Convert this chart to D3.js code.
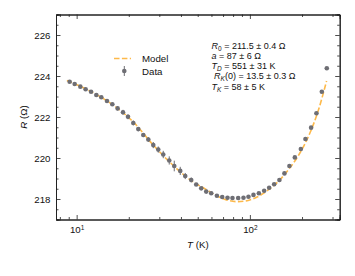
<!DOCTYPE html>
<html>
<head>
<meta charset="utf-8">
<script src="https://cdn.jsdelivr.net/npm/d3@7"></script>
<style>
  body { margin: 0; background: #fff; }
  text { font-family: "Liberation Sans", Arial, Helvetica, sans-serif; fill: #111; }
</style>
</head>
<body>
<div id="chart"></div>
<script>
// data
var tempK = [9.11, 9.74, 10.5, 11.27, 12.11, 12.99, 13.88, 14.97, 16.07, 17.24,
  18.52, 19.79, 21.23, 22.69, 24.25, 25.92, 27.69, 29.59, 31.62, 34.24,
  36.6, 39.63, 42.35, 45.86, 49.01, 52.38, 55.97, 59.82, 64.51, 69.23,
  74.27, 79.37, 85.61, 91.86, 98.16, 104.9, 112.7, 120.9, 129.2, 138.1,
  148.1, 158.3, 169.1, 181.8, 196.9, 209.3, 225.7, 242.2, 260.2, 278.0];
var resist = [223.72, 223.61, 223.48, 223.35, 223.23, 223.07, 222.96, 222.78, 222.62, 222.42,
  222.23, 222.01, 221.71, 221.41, 221.12, 220.90, 220.63, 220.41, 220.17, 219.88,
  219.61, 219.37, 219.12, 218.93, 218.71, 218.52, 218.36, 218.28, 218.16, 218.10,
  218.06, 218.05, 218.05, 218.06, 218.11, 218.20, 218.28, 218.40, 218.55, 218.72,
  218.93, 219.25, 219.61, 220.03, 220.44, 220.93, 221.48, 222.18, 223.23, 224.38];
var resistErr = [0.05, 0.05, 0.05, 0.05, 0.05, 0.05, 0.05, 0.05, 0.08, 0.1,
  0.12, 0.12, 0.12, 0.1, 0.1, 0.12, 0.15, 0.15, 0.18, 0.2,
  0.26, 0.2, 0.15, 0.12, 0.05, 0.05, 0.05, 0.05, 0.05, 0.05,
  0.05, 0.05, 0.05, 0.05, 0.05, 0.05, 0.05, 0.05, 0.05, 0.05,
  0.05, 0.05, 0.05, 0.05, 0.05, 0.05, 0.05, 0.05, 0.05, 0.05];

var modelT = [8.78, 12.0, 16.07, 21.23, 27.69, 36.6, 45.86, 55.23, 63.08, 72.04,
  84.48, 97.77, 111.6, 127.6, 145.6, 166.3, 190.0, 216.9, 247.7, 277.3];
var modelR = [223.78, 223.26, 222.61, 221.76, 220.63, 219.59, 218.90, 218.49, 218.20, 217.98,
  217.87, 217.93, 218.12, 218.44, 218.85, 219.41, 220.10, 221.02, 222.29, 223.76];

var yTicks = [218, 220, 222, 224, 226];
var xMajor = [10, 100];
var xMinor = [8, 9, 20, 30, 40, 50, 60, 70, 80, 90, 200, 300];

var fitLines = [
  [["R", "i"], ["0", "sub"], [" =  211.5 \u00b1 0.4 \u03a9", ""]],
  [["a", "i"], [" =  87 \u00b1 6 \u03a9", ""]],
  [["T", "i"], ["D", "subi"], [" =  551 \u00b1 31 K", ""]],
  [["R", "i"], ["K", "subi"], ["(0) =  13.5 \u00b1 0.3 \u03a9", ""]],
  [["T", "i"], ["K", "subi"], [" =  58 \u00b1 5 K", ""]]
];
var fitIndent = [0, 0, 0, 2.6, 0];

var svgWidth = 355;
var svgHeight = 276;
var margin = { top: 14.5, right: 15.3, bottom: 56.5, left: 56 };
var width = svgWidth - margin.left - margin.right;
var height = svgHeight - margin.top - margin.bottom;

var svg = d3.select("#chart")
  .append("svg")
  .attr("width", svgWidth)
  .attr("height", svgHeight);

var chartGroup = svg.append("g")
  .attr("transform", `translate(${margin.left}, ${margin.top})`);

var xScale = d3.scaleLog().domain([7.6, 330]).range([0, width]);
var yScale = d3.scaleLinear().domain([217, 227]).range([height, 0]);

var orange = "#fdb94a";
var grey = "#6e6e74";
var axisColor = "#222";

// model line
var line = d3.line()
  .x((d, i) => xScale(modelT[i]))
  .y(d => yScale(d))
  .curve(d3.curveMonotoneX);

chartGroup.append("path")
  .datum(modelR)
  .attr("d", line)
  .attr("fill", "none")
  .attr("stroke", orange)
  .attr("stroke-width", 1.6)
  .attr("stroke-dasharray", "5.5,2.4");

// error bars + points
chartGroup.selectAll(".err")
  .data(resist)
  .enter()
  .append("line")
  .attr("x1", (d, i) => xScale(tempK[i]))
  .attr("x2", (d, i) => xScale(tempK[i]))
  .attr("y1", (d, i) => yScale(d - resistErr[i]))
  .attr("y2", (d, i) => yScale(d + resistErr[i]))
  .attr("stroke", grey)
  .attr("stroke-width", 1);

chartGroup.selectAll("circle")
  .data(resist)
  .enter()
  .append("circle")
  .attr("cx", (d, i) => xScale(tempK[i]))
  .attr("cy", d => yScale(d))
  .attr("r", 2.3)
  .attr("fill", grey);

// axes, ticks pointing in on all four sides
function styleAxis(g) {
  g.select(".domain").attr("stroke", axisColor).attr("stroke-width", 1);
  g.selectAll(".tick line").attr("stroke", axisColor).attr("stroke-width", 0.8);
  g.selectAll(".tick text").style("font-size", "9.7px").attr("fill", "#111");
}

var bottomMajor = d3.axisBottom(xScale).tickValues(xMajor).tickSize(-4.5).tickPadding(6.5).tickFormat(() => "");
var bottomMinor = d3.axisBottom(xScale).tickValues(xMinor).tickSize(-2.5).tickFormat(() => "");
var topMajor = d3.axisTop(xScale).tickValues(xMajor).tickSize(-4.5).tickFormat(() => "");
var topMinor = d3.axisTop(xScale).tickValues(xMinor).tickSize(-2.5).tickFormat(() => "");

var bx = chartGroup.append("g").attr("transform", `translate(0, ${height})`).call(bottomMajor).call(styleAxis);
chartGroup.append("g").attr("transform", `translate(0, ${height})`).call(bottomMinor).call(styleAxis);
chartGroup.append("g").call(topMajor).call(styleAxis);
chartGroup.append("g").call(topMinor).call(styleAxis);

bx.selectAll(".tick text").each(function (d) {
  var t = d3.select(this).text(null).attr("dy", "0.75em");
  t.append("tspan").text("10");
  t.append("tspan").attr("dy", "-0.45em").style("font-size", "6.5px").text(Math.round(Math.log10(d)));
});

var yMinor = d3.range(217, 227.01, 0.5).filter(v => yTicks.indexOf(v) < 0);

var leftAxis = d3.axisLeft(yScale).tickValues(yTicks).tickSize(-4.5).tickPadding(5.5);
chartGroup.append("g").call(leftAxis).call(styleAxis);
chartGroup.append("g").call(d3.axisLeft(yScale).tickValues(yMinor).tickSize(-2.5).tickFormat(() => "")).call(styleAxis);
chartGroup.append("g").attr("transform", `translate(${width}, 0)`)
  .call(d3.axisRight(yScale).tickValues(yTicks).tickSize(-4.5).tickFormat(() => "")).call(styleAxis);
chartGroup.append("g").attr("transform", `translate(${width}, 0)`)
  .call(d3.axisRight(yScale).tickValues(yMinor).tickSize(-2.5).tickFormat(() => "")).call(styleAxis);

// axis labels
var yLab = svg.append("text")
  .attr("transform", `translate(27, ${margin.top + height / 2}) rotate(-90)`)
  .style("text-anchor", "middle")
  .style("font-size", "9.7px");
yLab.append("tspan").style("font-style", "italic").text("R");
yLab.append("tspan").text(" (\u03a9)");

var xLab = svg.append("text")
  .attr("x", margin.left + width / 2)
  .attr("y", 248)
  .style("text-anchor", "middle")
  .style("font-size", "9.7px");
xLab.append("tspan").style("font-style", "italic").text("T");
xLab.append("tspan").text(" (K)");

// legend
var legend = svg.append("g");
legend.append("line")
  .attr("x1", 114).attr("x2", 131).attr("y1", 58.5).attr("y2", 58.5)
  .attr("stroke", orange).attr("stroke-width", 1.6).attr("stroke-dasharray", "5.5,2.4");
legend.append("line")
  .attr("x1", 124.3).attr("x2", 124.3).attr("y1", 66).attr("y2", 76)
  .attr("stroke", grey).attr("stroke-width", 1);
legend.append("circle").attr("cx", 124.3).attr("cy", 71).attr("r", 2.3).attr("fill", grey);
legend.append("text").attr("x", 142).attr("y", 62).style("font-size", "9.7px").text("Model");
legend.append("text").attr("x", 142).attr("y", 74.5).style("font-size", "9.7px").text("Data");

// fit parameters
fitLines.forEach(function (parts, k) {
  var t = svg.append("text")
    .attr("x", 211.5 + fitIndent[k])
    .attr("y", 48.5 + k * 10.3)
    .style("font-size", "9px");
  parts.forEach(function (p, j) {
    var s = t.append("tspan").text(p[0]);
    if (p[1] === "i") s.style("font-style", "italic");
    if (p[1] === "sub" || p[1] === "subi") {
      s.attr("dy", 2).style("font-size", "6.5px");
      if (p[1] === "subi") s.style("font-style", "italic");
    }
    if (p[1] === "" && j > 0 && /sub/.test(parts[j - 1][1])) {
      s.attr("dy", -2);
    }
  });
});
</script>
</body>
</html>
